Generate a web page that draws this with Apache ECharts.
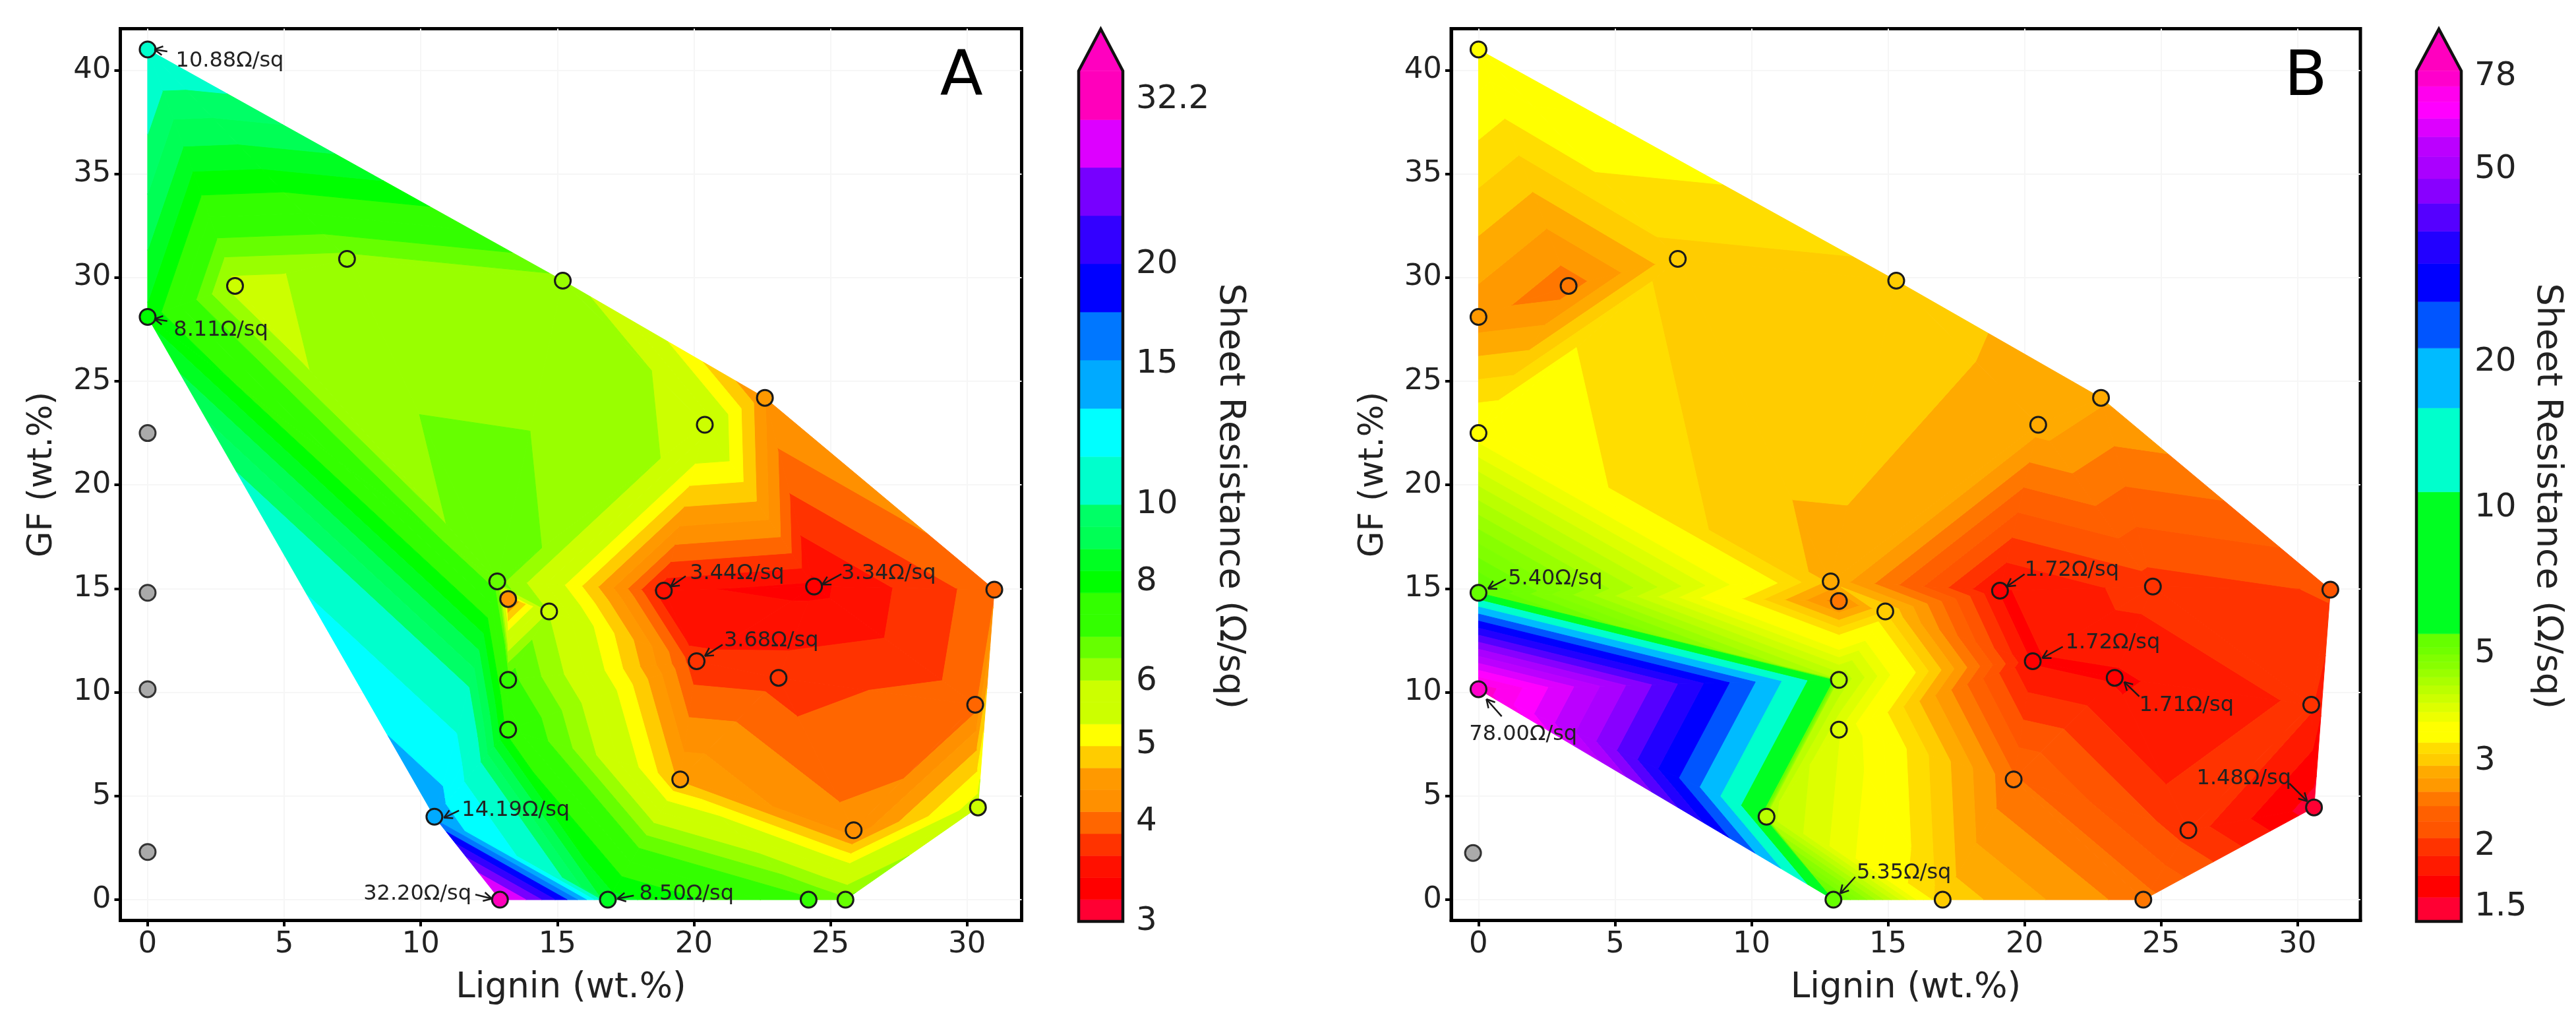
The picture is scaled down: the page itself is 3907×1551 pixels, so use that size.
<!DOCTYPE html>
<html><head><meta charset="utf-8">
<style>html,body{margin:0;padding:0;background:#fff}#c{width:3907px;height:1551px}</style>
<script src="https://cdn.jsdelivr.net/npm/echarts@6/dist/echarts.min.js"></script>
</head><body><div id="c"></div>
<script>
// ---------- Panel A measurements ----------
const aLignin = [0,0,3.2,7.3,15.2,22.6,20.4,12.8,13.2,14.7,18.9,24.4,31,20.1,23.1,13.2,13.2,19.5,30.3,30.4,25.85,10.5,12.9,16.85,24.2,25.55];
const aGF     = [41,28.1,29.6,30.9,29.85,24.2,22.9,15.35,14.5,13.9,14.9,15.1,14.95,11.5,10.7,10.6,8.2,5.8,9.4,4.45,3.35,4,0,0,0,0];
const aRes    = [10.88,8.11,5.8,6.28,6.27,4.4,5.87,6.57,4.2,6.0,3.44,3.34,4.0,3.68,3.75,7.0,7.5,4.6,4.0,5.5,4.2,14.19,32.2,8.5,6.9,6.5];
const aGreyLignin = [0,0,0,0];
const aGreyGF     = [22.5,14.8,10.15,2.3];
// ---------- Panel B measurements ----------
const bLignin = [0,0,3.3,7.3,15.3,22.8,20.5,0,12.9,13.2,14.9,19.1,24.7,31.2,0,0,20.3,23.3,13.2,13.2,10.55,19.6,30.5,30.6,26,13,17,24.35];
const bGF     = [41,28.1,29.6,30.9,29.85,24.2,22.9,22.5,15.35,14.4,13.9,14.9,15.1,14.95,14.8,10.15,11.5,10.7,10.6,8.2,4,5.8,9.4,4.45,3.35,0,0,0];
const bRes    = [3.6,2.65,2.5,3.05,3.05,2.8,2.85,3.5,2.9,2.5,3.1,1.72,2.0,2.1,5.4,78,1.72,1.71,4.3,3.8,4.2,2.45,1.95,1.48,2.0,5.35,3.05,2.5];
const bGreyLignin = [-0.2];
const bGreyGF     = [2.25];
// ---------- Contour levels ----------
const aLevels = [3,3.196,3.405,3.628,3.865,4.118,4.387,4.674,4.98,5.305,5.652,6.02,6.42,6.83,7.28,7.75,8.26,8.8,9.38,10,11.49,13.2,15.18,17.44,20.05,23.04,26.48,30.4,35];
const bLevels = [1.4,1.571,1.742,1.913,2.083,2.254,2.425,2.596,2.767,2.938,3.108,3.279,3.45,3.621,3.792,3.963,4.133,4.304,4.475,4.646,4.817,4.988,5.158,5.329,5.5,10.8,16.1,21.4,26.7,32,37.3,42.6,47.9,53.2,58.5,63.8,69.1,74.4,80];
const aBandColors = ['#ff0033','#ff0000','#ff1000','#ff3300','#ff6600','#ff9000','#ff9900','#ffcc00','#ffff00','#ccff00','#ccff00','#99ff00','#66ff00','#33ff00','#33ff00','#00ff00','#00ff22','#00ff55','#00ff66','#00ffcc','#00ffff','#00aaff','#0077ff','#0000ff','#3300ff','#7700ff','#dd00ff','#ff00bb'];
const bBandColors = ['#ff0033','#ff0000','#ff1a00','#ff3300','#ff5500','#ff6000','#ff7700','#ff9900','#ffaa00','#ffcc00','#ffdd00','#ffff00','#ffff00','#eeff00','#ddff00','#ccff00','#bbff00','#aaff00','#99ff00','#88ff00','#80ff00','#70ff00','#66ff00','#66ff00','#00ff22','#00ffcc','#00bbff','#0055ff','#0000ff','#2200ff','#5500ff','#8800ff','#aa00ff','#bb00ff','#dd00ff','#ff00ff','#ff00ee','#ff00cc'];
const aArrowTop = 39.5, bArrowTop = 97.6;
const aCbarTicks = [3,4,5,6,8,10,15,20,32.2];
const bCbarTicks = [1.5,2,3,5,10,20,50,78];
const xTicks = [0,5,10,15,20,25,30];
const yTicks = [0,5,10,15,20,25,30,35,40];
// ---------- Annotations: text, textX, textY, tailX, tailY, headX, headY ----------
const aNotes = [
 ['10.88Ω/sq',1.03,40.55,0.72,40.9,0.25,41],
 ['8.11Ω/sq',0.95,27.6,0.72,27.9,0.25,28.0],
 ['14.19Ω/sq',11.5,4.44,11.4,4.3,10.85,3.95],
 ['32.20Ω/sq',7.9,0.4,12.0,0.25,12.6,0.05],
 ['8.50Ω/sq',18.0,0.4,17.8,0.2,17.2,0.05],
 ['3.44Ω/sq',19.85,15.85,19.7,15.6,19.15,15.1],
 ['3.34Ω/sq',25.4,15.85,25.4,15.7,24.7,15.2],
 ['3.68Ω/sq',21.1,12.6,21.05,12.3,20.4,11.75]
];
const bNotes = [
 ['5.40Ω/sq',1.08,15.6,1.0,15.45,0.35,15],
 ['78.00Ω/sq',-0.34,8.08,0.85,8.84,0.29,9.67],
 ['1.72Ω/sq',20.0,16,20,15.7,19.35,15.1],
 ['1.72Ω/sq',21.5,12.5,21.4,12.2,20.65,11.65],
 ['1.71Ω/sq',24.2,9.5,24.2,9.8,23.65,10.5],
 ['1.48Ω/sq',26.3,5.95,29.7,5.6,30.35,4.75],
 ['5.35Ω/sq',13.85,1.4,13.8,1.1,13.25,0.3]
];

const FONT = '"DejaVu Sans"';
// ---------- tricontourf: Delaunay + band clipping ----------
function delaunay(xs, ys){
  const n=xs.length, T=[];
  for(let i=0;i<n;i++)for(let j=i+1;j<n;j++)for(let k=j+1;k<n;k++){
    const ax=xs[i],ay=ys[i],bx=xs[j],by=ys[j],cx=xs[k],cy=ys[k];
    const d=2*(ax*(by-cy)+bx*(cy-ay)+cx*(ay-by));
    if(Math.abs(d)<1e-7)continue;
    const a2=ax*ax+ay*ay,b2=bx*bx+by*by,c2=cx*cx+cy*cy;
    const ux=(a2*(by-cy)+b2*(cy-ay)+c2*(ay-by))/d, uy=(a2*(cx-bx)+b2*(ax-cx)+c2*(bx-ax))/d;
    const r2=(ax-ux)*(ax-ux)+(ay-uy)*(ay-uy);
    let ok=true;
    for(let m=0;m<n&&ok;m++){
      if(m===i||m===j||m===k)continue;
      const q=(xs[m]-ux)*(xs[m]-ux)+(ys[m]-uy)*(ys[m]-uy);
      if(q<r2*(1-1e-9))ok=false;
    }
    if(ok)T.push([i,j,k]);
  }
  return T;
}
function clip(poly, lev, keepAbove){
  const out=[];
  for(let i=0;i<poly.length;i++){
    const p=poly[i],q=poly[(i+1)%poly.length];
    const pin=keepAbove?p[2]>=lev:p[2]<=lev, qin=keepAbove?q[2]>=lev:q[2]<=lev;
    if(pin)out.push(p);
    if(pin!==qin){const t=(lev-p[2])/(q[2]-p[2]);out.push([p[0]+t*(q[0]-p[0]),p[1]+t*(q[1]-p[1]),lev]);}
  }
  return out;
}
function bandPolys(xs,ys,zs,levels,colors){
  const polys=[];
  delaunay(xs,ys).forEach(t=>{
    const tri=t.map(i=>[xs[i],ys[i],zs[i]]);
    for(let b=0;b<levels.length-1;b++){
      let p=clip(tri,levels[b],true);
      if(p.length>=3)p=clip(p,levels[b+1],false);
      if(p.length>=3)polys.push({pts:p,color:colors[b]});
    }
  });
  return polys;
}
function colorOf(v,levels,colors){
  for(let b=0;b<levels.length-1;b++) if(v>=levels[b]&&v<levels[b+1])return colors[b];
  return colors[colors.length-1];
}
// ---------- series builders ----------
function contourSeries(idx,polys){
  return {type:'custom',xAxisIndex:idx,yAxisIndex:idx,coordinateSystem:'cartesian2d',clip:true,z:2,silent:true,
    data:polys.map((p,i)=>[p.pts[0][0],p.pts[0][1],i]),
    renderItem(params,api){
      const p=polys[api.value(2)];
      return {type:'polygon',shape:{points:p.pts.map(v=>api.coord([v[0],v[1]]))},
        style:{fill:p.color,stroke:p.color,lineWidth:1}};
    }};
}
function scatterSeries(idx,xs,ys,zs,levels,colors){
  return {type:'scatter',xAxisIndex:idx,yAxisIndex:idx,symbolSize:24,z:4,silent:true,
    data:xs.map((x,i)=>({value:[x,ys[i],zs[i]],itemStyle:{color:colorOf(zs[i],levels,colors)}})),
    itemStyle:{borderColor:'#1a1a1a',borderWidth:3,opacity:1}};
}
function greySeries(idx,xs,ys){
  return {type:'scatter',xAxisIndex:idx,yAxisIndex:idx,symbolSize:24,z:4,silent:true,
    data:xs.map((x,i)=>[x,ys[i]]),
    itemStyle:{color:'#aaaaaa',borderColor:'#333',borderWidth:3,opacity:1}};
}
function noteSeries(idx,notes){
  return {type:'custom',xAxisIndex:idx,yAxisIndex:idx,coordinateSystem:'cartesian2d',z:5,silent:true,clip:false,
    data:notes.map((n,i)=>[n[1],n[2],i]),
    renderItem(params,api){
      const n=notes[api.value(2)];
      const t=api.coord([n[1],n[2]]),a=api.coord([n[3],n[4]]),h=api.coord([n[5],n[6]]);
      const ang=Math.atan2(a[1]-h[1],a[0]-h[0]),L=14,w=0.5;
      const h1=[h[0]+L*Math.cos(ang+w),h[1]+L*Math.sin(ang+w)],h2=[h[0]+L*Math.cos(ang-w),h[1]+L*Math.sin(ang-w)];
      const ln=(p,q)=>({type:'line',shape:{x1:p[0],y1:p[1],x2:q[0],y2:q[1]},style:{stroke:'#1a1a1a',lineWidth:2.5}});
      return {type:'group',children:[ln(a,h),ln(h1,h),ln(h2,h),
        {type:'text',x:t[0],y:t[1]+4,style:{text:n[0],font:'32px '+FONT,fill:'#222',textAlign:'left',textVerticalAlign:'middle'}}]};
    }};
}
function letterSeries(idx,x,y,letter){
  return {type:'custom',xAxisIndex:idx,yAxisIndex:idx,coordinateSystem:'cartesian2d',z:5,silent:true,clip:false,
    data:[[x,y]],
    renderItem(params,api){
      const c=api.coord([api.value(0),api.value(1)]);
      return {type:'text',x:c[0],y:c[1],style:{text:letter,font:'95px '+FONT,fill:'#000',textAlign:'center',textVerticalAlign:'middle'}};
    }};
}
function cbarSeries(idx,levels,colors,topValue){
  const bands=levels.slice(0,-1).map((lo,i)=>[lo,levels[i+1],i]);
  const top=levels[levels.length-1], bottom=levels[0];
  return [{type:'custom',xAxisIndex:idx,yAxisIndex:idx,coordinateSystem:'cartesian2d',clip:false,z:2,silent:true,
    data:bands,encode:{y:[0,1]},
    renderItem(params,api){
      const i=api.value(2);
      const a=api.coord([0,api.value(0)]),b=api.coord([1,api.value(1)]);
      const col=colors[i];
      return {type:'rect',shape:{x:a[0],y:b[1],width:b[0]-a[0],height:a[1]-b[1]},style:{fill:col,stroke:col,lineWidth:0.6}};
    }},
   {type:'custom',xAxisIndex:idx,yAxisIndex:idx,coordinateSystem:'cartesian2d',clip:false,z:3,silent:true,
    data:[[top,topValue,bottom]],encode:{y:[0,1,2]},
    renderItem(params,api){
      const t=api.value(0),v=api.value(1),bt=api.value(2);
      const tl=api.coord([0,t]),tr=api.coord([1,t]),tip=api.coord([0.5,v]),bl=api.coord([0,bt]),br=api.coord([1,bt]);
      return {type:'group',children:[
        {type:'polygon',shape:{points:[tl,tip,tr]},style:{fill:'#ff00bf'}},
        {type:'polygon',shape:{points:[bl,tl,tip,tr,br]},style:{fill:'none',stroke:'#111',lineWidth:4.5,lineJoin:'miter'}}]};
    }}];
}
// ---------- axes ----------
const plotXAxis=(gi,xMax)=>({gridIndex:gi,type:'value',min:-1,max:xMax,name:'Lignin (wt.%)',nameLocation:'middle',nameGap:76,
  nameTextStyle:{fontFamily:FONT,fontSize:53,color:'#222'},
  axisLine:{show:true,onZero:false,lineStyle:{color:'#000',width:5}},
  axisTick:{show:true,length:9,customValues:xTicks,lineStyle:{color:'#000',width:4}},
  axisLabel:{show:true,customValues:xTicks,margin:14,fontFamily:FONT,fontSize:45,color:'#222',showMinLabel:true,showMaxLabel:true},
  splitLine:{show:true,lineStyle:{color:'#f6f6f6',width:2}}});
const plotYAxis=(gi)=>({gridIndex:gi,type:'value',min:-1,max:42,name:'GF (wt.%)',nameLocation:'middle',nameGap:92,
  nameTextStyle:{fontFamily:FONT,fontSize:51,color:'#222'},
  axisLine:{show:true,onZero:false,lineStyle:{color:'#000',width:5}},
  axisTick:{show:true,length:9,customValues:yTicks,lineStyle:{color:'#000',width:4}},
  axisLabel:{show:true,customValues:yTicks,margin:14,padding:[4,0,0,0],fontFamily:FONT,fontSize:45,color:'#222'},
  splitLine:{show:true,lineStyle:{color:'#f6f6f6',width:2}}});
const cbX=(gi)=>({gridIndex:gi,type:'value',min:0,max:1,show:false});
const cbY=(gi,levels,ticks,gap)=>({gridIndex:gi,type:'log',logBase:10,min:levels[0],max:levels[levels.length-1],position:'right',
  name:'Sheet Resistance (Ω/sq)',nameLocation:'middle',nameRotate:-90,nameGap:gap,
  nameTextStyle:{fontFamily:FONT,fontSize:54,color:'#222'},
  axisLine:{show:false},splitLine:{show:false},minorTick:{show:false},
  axisTick:{show:true,length:10,customValues:ticks,lineStyle:{color:'#333',width:2.5}},
  axisLabel:{show:true,customValues:ticks,margin:20,padding:[4,0,0,0],fontFamily:FONT,fontSize:50,color:'#222',formatter:v=>String(v)}});

const aPolys=bandPolys(aLignin,aGF,aRes,aLevels,aBandColors);
const bPolys=bandPolys(bLignin,bGF,bRes,bLevels,bBandColors);
const frame={show:true,borderColor:'#000',borderWidth:5,backgroundColor:'#fff',containLabel:false};
const chart=echarts.init(document.getElementById('c'),null,{width:3907,height:1551,devicePixelRatio:1});
chart.setOption({
  animation:false,backgroundColor:'#fff',
  grid:[
    Object.assign({left:182.5,top:43.5,width:1367,height:1352},frame),
    Object.assign({left:2201,top:43.5,width:1379,height:1352},frame),
    {left:1636,top:107.5,width:67,height:1289.5,show:false},
    {left:3665,top:107.5,width:68,height:1289.5,show:false}
  ],
  xAxis:[plotXAxis(0,32),plotXAxis(1,32.3),cbX(2),cbX(3)],
  yAxis:[plotYAxis(0),plotYAxis(1),cbY(2,aLevels,aCbarTicks,115),cbY(3,bLevels,bCbarTicks,80)],
  series:[
    contourSeries(0,aPolys),
    scatterSeries(0,aLignin,aGF,aRes,aLevels,aBandColors),
    greySeries(0,aGreyLignin,aGreyGF),
    noteSeries(0,aNotes),
    letterSeries(0,29.8,39.6,'A'),
    contourSeries(1,bPolys),
    scatterSeries(1,bLignin,bGF,bRes,bLevels,bBandColors),
    greySeries(1,bGreyLignin,bGreyGF),
    noteSeries(1,bNotes),
    letterSeries(1,30.3,39.6,'B'),
    ...cbarSeries(2,aLevels,aBandColors,aArrowTop),
    ...cbarSeries(3,bLevels,bBandColors,bArrowTop)
  ]
});
</script></body></html>
